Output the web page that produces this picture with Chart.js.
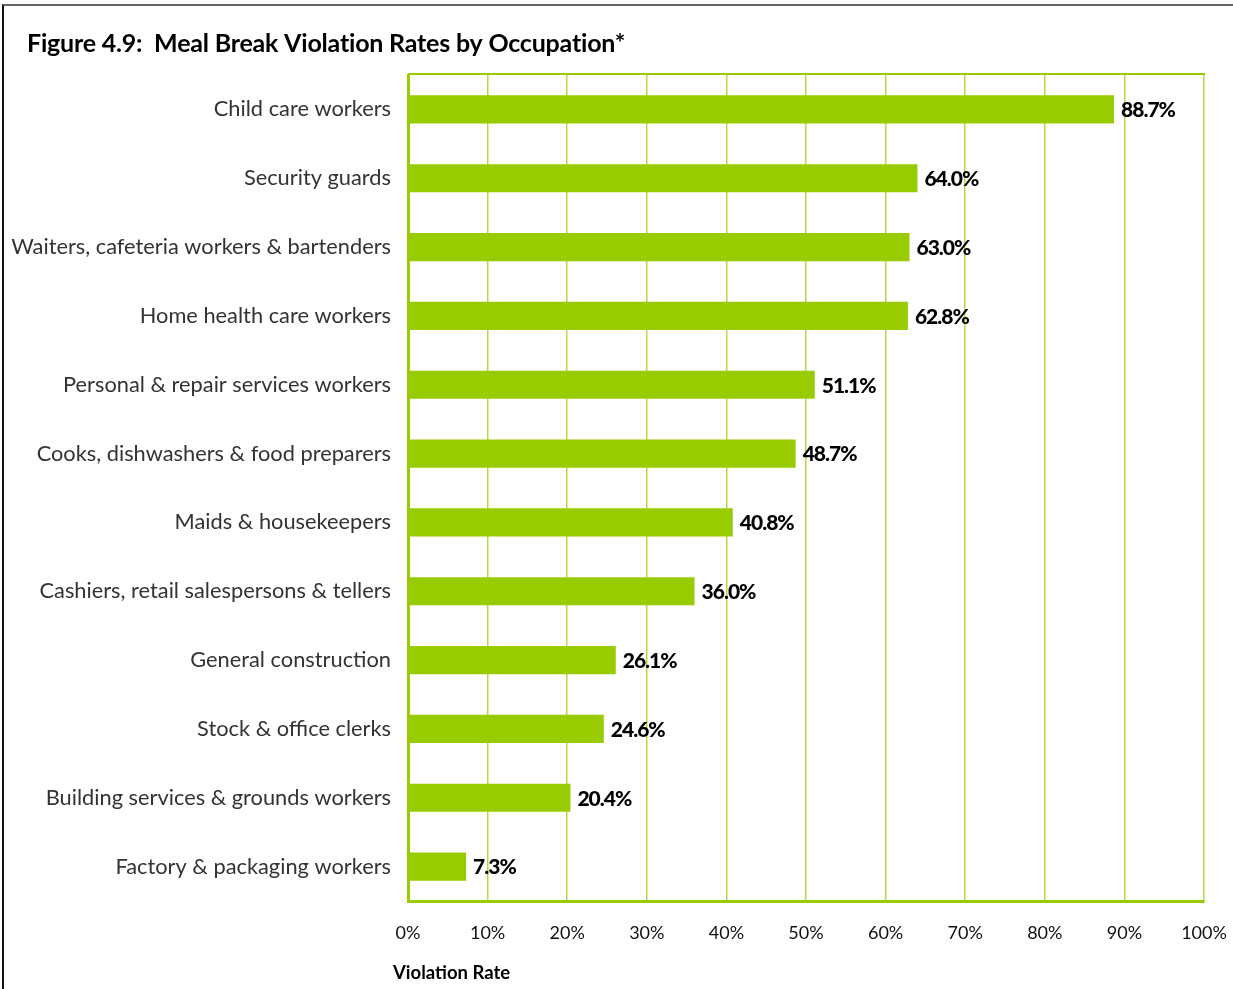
<!DOCTYPE html>
<html>
<head>
<meta charset="utf-8">
<script src="https://cdn.jsdelivr.net/npm/chart.js@4/dist/chart.umd.min.js"></script>
<style>
  html, body { margin: 0; padding: 0; background: #fff; }
  #wrap { position: relative; width: 1233px; height: 989px; overflow: hidden; }
  #frame { position: absolute; left: 2px; top: 4px; width: 1240px; height: 1000px;
           border-left: 2px solid #111; border-top: 2px solid #666; box-sizing: border-box; }
  canvas { position: absolute; left: 0; top: 0; }
</style>
</head>
<body>
<div id="wrap">
  <div id="frame"></div>
  <canvas id="c" width="1233" height="989"></canvas>
</div>
<script>
const occupations = [
  "Child care workers",
  "Security guards",
  "Waiters, cafeteria workers & bartenders",
  "Home health care workers",
  "Personal & repair services workers",
  "Cooks, dishwashers & food preparers",
  "Maids & housekeepers",
  "Cashiers, retail salespersons & tellers",
  "General construction",
  "Stock & office clerks",
  "Building services & grounds workers",
  "Factory & packaging workers"
];
const violationRates = [88.7, 64.0, 63.0, 62.8, 51.1, 48.7, 40.8, 36.0, 26.1, 24.6, 20.4, 7.3];
const rateTicks = [0, 10, 20, 30, 40, 50, 60, 70, 80, 90, 100];

const chartTitle = "Figure 4.9:  Meal Break Violation Rates by Occupation*";
const axisTitle = "Violation Rate";

const GREEN = "#99CC00";
const GRID = "#b4d941";
const FONT = "Lato, 'Open Sans', sans-serif";

// Title, axis caption, top frame line and value labels
const decorations = {
  id: "decorations",
  afterDatasetsDraw(chart) {
    const ctx = chart.ctx;
    const area = chart.chartArea;
    const xs = chart.scales.x;
    ctx.save();
    // top edge of plot frame
    ctx.strokeStyle = GREEN;
    ctx.lineWidth = 2;
    ctx.beginPath();
    ctx.moveTo(area.left, area.top - 1);
    ctx.lineTo(area.right + 1, area.top - 1);
    ctx.stroke();

    // value labels at bar ends
    ctx.fillStyle = "#000";
    ctx.font = "900 21px " + FONT;
    ctx.letterSpacing = "-1px";
    ctx.textAlign = "left";
    ctx.textBaseline = "middle";
    const meta = chart.getDatasetMeta(0);
    meta.data.forEach((bar, i) => {
      const v = violationRates[i];
      ctx.fillText(v.toFixed(1) + "%", xs.getPixelForValue(v) + 7, bar.y + 1);
    });

    // chart title
    ctx.letterSpacing = "-0.2px";
    ctx.font = "bold 25px " + FONT;
    ctx.textBaseline = "middle";
    ctx.fillText(chartTitle, 27, 44);

    // x axis caption
    ctx.letterSpacing = "0px";
    ctx.font = "bold 18.5px " + FONT;
    ctx.fillText(axisTitle, 393, 973);
    ctx.restore();
  }
};

new Chart(document.getElementById("c"), {
  type: "bar",
  data: {
    labels: occupations,
    datasets: [{
      data: violationRates,
      backgroundColor: GREEN,
      borderWidth: 0,
      categoryPercentage: 1,
      barPercentage: 0.41
    }]
  },
  options: {
    indexAxis: "y",
    responsive: false,
    animation: false,
    layout: { padding: { top: 75, right: 29, bottom: 0, left: 0 } },
    plugins: {
      legend: { display: false },
      tooltip: { enabled: false },
      title: { display: false }
    },
    scales: {
      x: {
        type: "linear",
        min: 0,
        max: 100,
        afterBuildTicks(scale) {
          scale.ticks = rateTicks.map(v => ({ value: v }));
        },
        afterFit(scale) {
          scale.height = 88;
          scale.paddingLeft = 0;
          scale.paddingRight = 0;
        },
        grid: { color: GRID, lineWidth: 1.5, drawTicks: false },
        border: { color: GREEN, width: 3 },
        ticks: {
          callback: v => v + "%",
          color: "#111",
          font: { family: FONT, size: 18 },
          padding: 21,
          maxRotation: 0
        }
      },
      y: {
        type: "category",
        afterFit(scale) {
          scale.width = 408;
          scale.paddingTop = 0;
          scale.paddingBottom = 0;
        },
        grid: { display: false, drawTicks: false },
        border: { color: GREEN, width: 3 },
        ticks: {
          color: "#333",
          font: { family: FONT, size: 21.8 },
          padding: 17
        }
      }
    }
  },
  plugins: [decorations]
});
</script>
</body>
</html>
